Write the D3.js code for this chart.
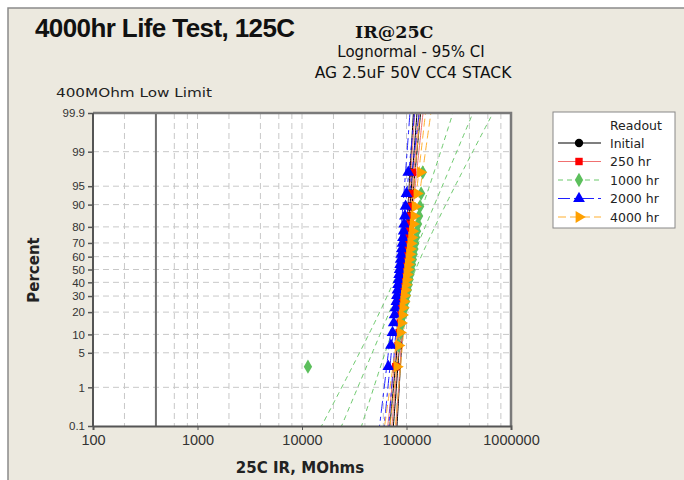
<!DOCTYPE html>
<html>
<head>
<meta charset="utf-8">
<script src="https://cdn.jsdelivr.net/npm/d3@7"></script>
<style>
  body { margin: 0; background: #fff; }
  svg { display: block; font-family: "DejaVu Sans", Verdana, sans-serif; }
  .axis text { font-size: 11.5px; fill: #333; }
  .axis line, .axis path { stroke: #555; }
</style>
</head>
<body>
<div id="chart"></div>
<script>
// readouts, IR in MOhms (25 parts each)
const readouts = ['Initial', '250 hr', '1000 hr', '2000 hr', '4000 hr'];
const initialIR = [80500, 84000, 86000, 88000, 89500, 90500, 92000, 93000, 94000, 95000, 96000, 97000, 98000,
  99000, 100000, 101000, 102000, 103000, 104000, 105000, 106000, 107000, 108000, 109000, 110500];
const hr250IR = [79000, 83000, 85500, 87000, 89000, 90000, 91500, 92500, 94000, 95000, 95500, 97000, 98000,
  99500, 100500, 101500, 103000, 104000, 105500, 107000, 108000, 109000, 110500, 112000, 114000];
const hr1000IR = [11400, 84000, 88000, 91000, 94000, 97000, 99000, 101000, 103000, 105000, 107000, 109000, 111000,
  113000, 115000, 117000, 119000, 121000, 123500, 126000, 129000, 132000, 135000, 138000, 143000];
const hr2000IR = [67000, 71000, 73500, 75500, 77000, 78500, 80000, 81000, 82000, 83000, 84000, 85000, 86000,
  87000, 88000, 89000, 90000, 91500, 92500, 94000, 95000, 96500, 98000, 100000, 104000];
const hr4000IR = [81000, 84000, 87000, 89000, 91000, 92500, 94000, 95500, 97000, 98500, 100000, 101000, 102500,
  104000, 105500, 107000, 108500, 110000, 112000, 114000, 116000, 118000, 121000, 126000, 136000];
const seriesValues = [initialIR, hr250IR, hr1000IR, hr2000IR, hr4000IR];

const percentTicks = [0.1, 1, 5, 10, 20, 30, 40, 50, 60, 70, 80, 90, 95, 99, 99.9];
const irTicks = [100, 1000, 10000, 100000, 1000000];
const lowLimit = 400;

const W = 684, H = 480;
const plot = { left: 93, right: 511, top: 113, bottom: 426 };

// inverse normal cdf (Acklam)
function probit(p) {
  const a = [-3.969683028665376e+01, 2.209460984245205e+02, -2.759285104469687e+02, 1.383577518672690e+02, -3.066479806614716e+01, 2.506628277459239e+00];
  const b = [-5.447609879822406e+01, 1.615858368580409e+02, -1.556989798598866e+02, 6.680131188771972e+01, -1.328068155288572e+01];
  const c = [-7.784894002430293e-03, -3.223964580411365e-01, -2.400758277161838e+00, -2.549732539343734e+00, 4.374664141464968e+00, 2.938163982698783e+00];
  const d = [7.784695709041462e-03, 3.224671290700398e-01, 2.445134137142996e+00, 3.754408661907416e+00];
  const pl = 0.02425;
  if (p < pl) {
    const q = Math.sqrt(-2 * Math.log(p));
    return (((((c[0] * q + c[1]) * q + c[2]) * q + c[3]) * q + c[4]) * q + c[5]) / ((((d[0] * q + d[1]) * q + d[2]) * q + d[3]) * q + 1);
  }
  if (p <= 1 - pl) {
    const q = p - 0.5, r = q * q;
    return (((((a[0] * r + a[1]) * r + a[2]) * r + a[3]) * r + a[4]) * r + a[5]) * q / (((((b[0] * r + b[1]) * r + b[2]) * r + b[3]) * r + b[4]) * r + 1);
  }
  const q = Math.sqrt(-2 * Math.log(1 - p));
  return -(((((c[0] * q + c[1]) * q + c[2]) * q + c[3]) * q + c[4]) * q + c[5]) / ((((d[0] * q + d[1]) * q + d[2]) * q + d[3]) * q + 1);
}

const x = d3.scaleLog().domain([100, 1000000]).range([plot.left, plot.right]);
const yz = d3.scaleLinear().domain([probit(0.001), probit(0.999)]).range([plot.bottom, plot.top]);
const yPct = pct => yz(probit(pct / 100));

const styles = [
  { line: '#000000', fill: '#000000', dash: null, symbol: d3.symbolCircle, size: 55, rot: 0 },
  { line: '#f07070', fill: '#ff0000', dash: null, symbol: d3.symbolSquare, size: 55, rot: 0 },
  { line: '#6cc96c', fill: '#5cbf5c', dash: '5,4', symbol: d3.symbolDiamond, size: 60, rot: 0 },
  { line: '#2020ff', fill: '#0000ff', dash: '12,4,4,4', symbol: d3.symbolTriangle, size: 60, rot: 0 },
  { line: '#ffb030', fill: '#ffa000', dash: '8,4', symbol: d3.symbolTriangle, size: 60, rot: 90 }
];

const svg = d3.select('#chart').append('svg').attr('width', W).attr('height', H);

// frame
svg.append('rect').attr('x', 8).attr('y', 8).attr('width', W + 20).attr('height', H + 20)
  .attr('fill', '#ece9df').attr('stroke', '#8a8a8a').attr('stroke-width', 1.5);

// titles
svg.append('text').attr('x', 35).attr('y', 37).text('4000hr Life Test, 125C')
  .style('font-family', '"Liberation Sans", Arial, sans-serif').style('font-size', '26px')
  .style('font-weight', 'bold').style('letter-spacing', '-0.6px').attr('fill', '#111');
svg.append('text').attr('x', 355).attr('y', 38).text('IR@25C')
  .style('font-family', '"DejaVu Serif", serif').style('font-weight', 'bold').style('font-size', '17.5px').attr('fill', '#111');
svg.append('text').attr('x', 411).attr('y', 57).attr('text-anchor', 'middle').text('Lognormal - 95% CI')
  .style('font-size', '15px').attr('fill', '#111');
svg.append('text').attr('x', 413).attr('y', 78).attr('text-anchor', 'middle').text('AG 2.5uF 50V CC4 STACK')
  .style('font-size', '15.5px').attr('fill', '#111');
svg.append('text').attr('x', 56).attr('y', 97).text('400MOhm Low Limit')
  .attr('textLength', 156).attr('lengthAdjust', 'spacingAndGlyphs')
  .style('font-size', '12px').attr('fill', '#222');

// plot background
svg.append('rect').attr('x', plot.left).attr('y', plot.top)
  .attr('width', plot.right - plot.left).attr('height', plot.bottom - plot.top).attr('fill', '#fff');

// grid
const gridX = [];
irTicks.slice(0, -1).forEach(dec => [1, 2, 4, 6, 8].forEach(m => { if (dec * m > 100) gridX.push(dec * m); }));
const grid = svg.append('g').attr('stroke', '#c8c8c8').attr('stroke-dasharray', '6,4').attr('stroke-width', 1);
grid.selectAll('.gx').data(gridX).join('line')
  .attr('x1', d => x(d)).attr('x2', d => x(d)).attr('y1', plot.top).attr('y2', plot.bottom);
grid.selectAll('.gy').data(percentTicks.slice(1, -1)).join('line')
  .attr('x1', plot.left).attr('x2', plot.right).attr('y1', d => yPct(d)).attr('y2', d => yPct(d));

// low limit reference
svg.append('line').attr('x1', x(lowLimit)).attr('x2', x(lowLimit)).attr('y1', plot.top).attr('y2', plot.bottom)
  .attr('stroke', '#707070').attr('stroke-width', 2);

// clip
svg.append('clipPath').attr('id', 'clip').append('rect')
  .attr('x', plot.left).attr('y', plot.top).attr('width', plot.right - plot.left).attr('height', plot.bottom - plot.top);

// fits with 95% CI
const zs = d3.range(-3.3, 3.31, 0.05);
const fitLayer = svg.append('g').attr('clip-path', 'url(#clip)');
seriesValues.forEach((vals, si) => {
  const logs = vals.map(v => Math.log10(v));
  const n = logs.length;
  const mu = d3.mean(logs);
  const sigma = Math.sqrt(d3.sum(logs, l => (l - mu) ** 2) / n);
  [-1, 0, 1].forEach(k => {
    const pts = zs.map(z => {
      const se = sigma * Math.sqrt((1 + z * z / 2) / n);
      return [x(Math.pow(10, mu + z * sigma + k * 1.96 * se)), yz(z)];
    });
    fitLayer.append('path').attr('d', d3.line()(pts)).attr('fill', 'none')
      .attr('stroke', styles[si].line).attr('stroke-width', 1)
      .attr('stroke-dasharray', styles[si].dash);
  });
});

// points
const pointLayer = svg.append('g').attr('clip-path', 'url(#clip)');
seriesValues.forEach((vals, si) => {
  const sorted = vals.slice().sort((a, b) => a - b);
  const n = sorted.length;
  const st = styles[si];
  pointLayer.selectAll(null).data(sorted).join('path')
    .attr('d', d3.symbol().type(st.symbol).size(st.size))
    .attr('transform', (d, i) => `translate(${x(d)},${yPct((i + 1 - 0.3) / (n + 0.4) * 100)}) rotate(${st.rot})`)
    .attr('fill', st.fill);
});

// plot border
svg.append('path')
  .attr('d', `M${plot.left},${plot.top}H${plot.right}V${plot.bottom}`)
  .attr('fill', 'none').attr('stroke', '#7a7a7a').attr('stroke-width', 2.5);

// axes
svg.append('g').attr('class', 'axis').attr('transform', `translate(${plot.left},0)`)
  .call(d3.axisLeft(yz).tickValues(percentTicks.map(p => probit(p / 100)))
    .tickFormat((d, i) => percentTicks[i]).tickSize(5).tickPadding(3))
  .call(g => g.select('.domain').attr('d', `M0,${plot.top}V${plot.bottom}`).attr('stroke-width', 2))
  .call(g => g.selectAll('.tick line').attr('stroke-width', 1.5));
svg.append('g').attr('class', 'axis').attr('transform', `translate(0,${plot.bottom})`)
  .call(d3.axisBottom(x).tickValues(irTicks).tickFormat(d3.format('d')).tickSize(4).tickPadding(5))
  .call(g => g.select('.domain').attr('stroke-width', 2))
  .call(g => g.selectAll('text').style('font-size', '14.5px'));

svg.append('text').attr('x', 300).attr('y', 473).attr('text-anchor', 'middle').text('25C IR, MOhms')
  .style('font-weight', 'bold').style('font-size', '15px').attr('fill', '#222');
svg.append('text').attr('transform', 'translate(39,270) rotate(-90)').attr('text-anchor', 'middle').text('Percent')
  .style('font-weight', 'bold').style('font-size', '15px').attr('fill', '#222');

// legend
const lg = svg.append('g');
lg.append('rect').attr('x', 553).attr('y', 112).attr('width', 122).attr('height', 116)
  .attr('fill', '#fff').attr('stroke', '#888').attr('stroke-width', 1);
lg.append('text').attr('x', 610).attr('y', 130).text('Readout').style('font-size', '12.5px').attr('fill', '#222');
readouts.forEach((r, i) => {
  const yy = 143 + i * 18.5;
  const st = styles[i];
  lg.append('line').attr('x1', 558).attr('x2', 601).attr('y1', yy).attr('y2', yy)
    .attr('stroke', st.line).attr('stroke-width', 1.2).attr('stroke-dasharray', st.dash);
  lg.append('path').attr('d', d3.symbol().type(st.symbol).size(st.size)())
    .attr('transform', `translate(579,${yy}) rotate(${st.rot})`).attr('fill', st.fill);
  lg.append('text').attr('x', 610).attr('y', yy + 4.5).text(r).style('font-size', '12.5px').attr('fill', '#222');
});
</script>
</body>
</html>
